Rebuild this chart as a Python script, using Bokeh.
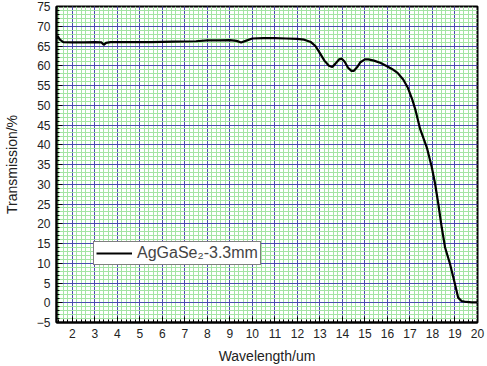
from bokeh.plotting import figure
from bokeh.models import SingleIntervalTicker, Range1d, Legend, LegendItem
from bokeh.embed import file_html
from bokeh.resources import INLINE

wavelength = [1.3, 1.35, 1.45, 1.6, 2.0, 2.5, 3.0, 3.3, 3.4, 3.5, 3.7, 4.5, 5.5, 6.5, 7.5,
              8.0, 8.5, 9.0, 9.3, 9.5, 9.7, 10.0, 10.5, 11.0, 11.5, 12.0, 12.3, 12.6, 12.8,
              13.0, 13.2, 13.4, 13.55, 13.7, 13.85, 13.97, 14.1, 14.25, 14.4, 14.5, 14.65,
              14.8, 15.0, 15.15, 15.4, 15.7, 16.0, 16.2, 16.45, 16.7, 16.9, 17.1,
              17.25, 17.45, 17.75, 17.97, 18.12, 18.26, 18.41, 18.56, 18.78, 19.0, 19.14,
              19.3, 19.5, 19.75, 20.0]
transmission = [67.0, 67.5, 66.6, 66.0, 65.9, 65.9, 66.0, 65.9, 65.3, 65.8, 66.0, 66.0, 66.0, 66.1, 66.2,
                66.4, 66.4, 66.5, 66.3, 65.9, 66.3, 66.9, 67.0, 67.0, 66.9, 66.8, 66.6, 66.0, 65.0,
                63.2, 61.3, 60.0, 59.7, 60.6, 61.6, 61.8, 61.0, 59.5, 58.7, 58.7, 59.6,
                60.9, 61.6, 61.6, 61.3, 60.7, 59.8, 59.2, 58.2, 56.5, 54.5, 51.5,
                48.7, 44.0, 39.3, 34.3, 30.0, 25.0, 19.1, 14.0, 9.8, 4.7, 1.3,
                0.4, 0.2, 0.1, 0.1]
series_label = "AgGaSe\u2082-3.3mm"
x_label = "Wavelength/um"
y_label = "Transmission/%"

FONT = "Liberation Sans"

p = figure(width=487, height=366, output_backend="svg", toolbar_location=None,
           x_range=Range1d(1.3, 20.0), y_range=Range1d(-5, 75),
           min_border_left=52, min_border_right=10, min_border_top=6, min_border_bottom=44)

p.outline_line_color = "black"
p.outline_line_width = 2
p.background_fill_color = "white"
p.border_fill_color = "white"

xt = SingleIntervalTicker(interval=1, num_minor_ticks=5)
yt = SingleIntervalTicker(interval=5, num_minor_ticks=5)
p.xaxis.ticker = xt
p.yaxis.ticker = yt
p.xgrid.ticker = xt
p.ygrid.ticker = yt

for g in (p.xgrid, p.ygrid):
    g.grid_line_color = "#4b4bb0"
    g.grid_line_width = 1
    g.minor_grid_line_color = "#a4e4a4"
    g.minor_grid_line_width = 1

for ax in (p.xaxis, p.yaxis):
    ax.axis_line_color = "black"
    ax.axis_line_width = 2
    ax.major_tick_in = 6
    ax.major_tick_out = 0
    ax.minor_tick_in = 3
    ax.minor_tick_out = 0
    ax.major_tick_line_color = "black"
    ax.minor_tick_line_color = "black"
    ax.major_label_text_font = FONT
    ax.major_label_text_font_size = "12px"
    ax.major_label_text_color = "#222222"
    ax.major_label_standoff = 6
    ax.axis_label_text_font = FONT
    ax.axis_label_text_font_size = "14px"
    ax.axis_label_text_font_style = "normal"
    ax.axis_label_text_color = "#222222"

p.xaxis.axis_label = x_label
p.yaxis.axis_label = y_label
p.xaxis.axis_label_standoff = 7
p.yaxis.axis_label_standoff = 14

r = p.line(wavelength, transmission, line_color="black", line_width=2.2)

legend = Legend(items=[LegendItem(label=series_label, renderers=[r])],
                location=(37, 57))
legend.border_line_color = "black"
legend.border_line_width = 1
legend.background_fill_color = "white"
legend.background_fill_alpha = 1
legend.label_text_font = FONT
legend.label_text_font_size = "16px"
legend.glyph_width = 36
legend.glyph_height = 16
legend.label_standoff = 5
legend.padding = 2
legend.margin = 0
legend.label_height = 16
p.add_layout(legend)

open("out.html", "w").write(file_html(p, INLINE))
